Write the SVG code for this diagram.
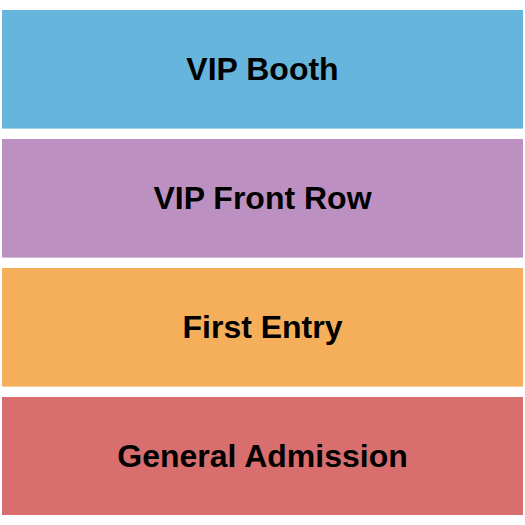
<svg xmlns="http://www.w3.org/2000/svg" width="525" height="525" viewBox="0 0 525 525">
<style>
.lbl{font-family:"Liberation Sans",Arial,sans-serif;font-weight:bold;font-size:32px;fill:#000;text-anchor:middle}
</style>
<rect width="525" height="525" fill="#fff"/>
<g id="vip-booth"><rect x="2" y="10" width="521" height="118.6" fill="#66B5DC"/><text class="lbl" x="262.5" y="80">VIP Booth</text></g>
<g id="vip-front-row"><rect x="2" y="139" width="521" height="118.6" fill="#BD90C2"/><text class="lbl" x="262.5" y="209">VIP Front Row</text></g>
<g id="first-entry"><rect x="2" y="268" width="521" height="118.6" fill="#F5AF5A"/><text class="lbl" x="262.5" y="338">First Entry</text></g>
<g id="general-admission"><rect x="2" y="397" width="521" height="118" fill="#D86F6E"/><text class="lbl" x="262.5" y="467">General Admission</text></g>
<g id="connectors"/>
</svg>
